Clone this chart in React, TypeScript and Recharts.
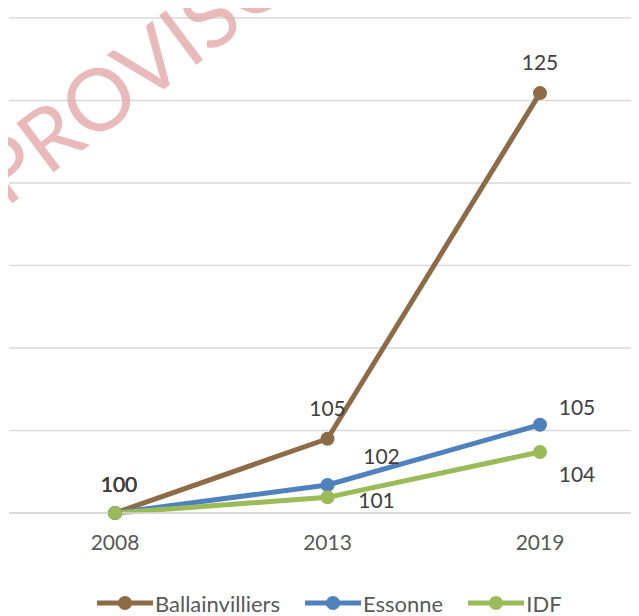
import React from "react";
import { LineChart, Line, XAxis, YAxis, CartesianGrid, Legend, LabelList } from "recharts";

const years = ["2008", "2013", "2019"];
const ballainvilliers = [100, 104.5, 125.45];
const essonne = [100, 101.7, 105.35];
const idf = [100, 100.95, 103.7];
const labelsB = ["100", "105", "125"];
const labelsE = ["100", "102", "105"];
const labelsI = ["100", "101", "104"];
const yTicks = [100, 105, 110, 115, 120, 125, 130];

const data = years.map((y, i) => ({
  year: y,
  Ballainvilliers: ballainvilliers[i],
  Essonne: essonne[i],
  IDF: idf[i],
}));

const COLORS = { Ballainvilliers: "#8D6B46", Essonne: "#4F81BD", IDF: "#9BBB59" };
const FONT = "Lato, 'Liberation Sans', sans-serif";

const makeLabel = (texts: string[], offsets: [number, number][]) => (props: any) => {
  const { x, y, index } = props;
  const [dx, dy] = offsets[index];
  return (
    <text
      x={x + dx}
      y={y + dy}
      textAnchor="middle"
      dominantBaseline="central"
      fontSize={21}
      fontFamily={FONT}
      fill="#404040"
    >
      {texts[index]}
    </text>
  );
};

const offB: [number, number][] = [[4, -30], [0, -31], [0, -32]];
const offE: [number, number][] = [[4, -30], [54, -29], [37, -18]];
const offI: [number, number][] = [[4, -30], [49, 2], [37, 22]];

const legendItems = ["Ballainvilliers", "Essonne", "IDF"] as const;

const LegendContent = () => (
  <div style={{ display: "flex", justifyContent: "flex-start", paddingLeft: 88, marginTop: 7, height: 40, alignItems: "center", fontFamily: FONT, fontSize: 22, color: "#595959" }}>
    {legendItems.map((k) => (
      <div key={k} style={{ display: "flex", alignItems: "center", marginRight: 25 }}>
        <svg width={56} height={16} style={{ marginRight: 2 }}>
          <line x1={0} y1={8} x2={56} y2={8} stroke={COLORS[k]} strokeWidth={5} />
          <circle cx={28} cy={8} r={7} fill={COLORS[k]} />
        </svg>
        <span>{k}</span>
      </div>
    ))}
  </div>
);

export default function App() {
  return (
    <div style={{ position: "relative", margin: -8, width: 646, height: 624, overflow: "hidden", background: "#fff" }}>
      <LineChart width={646} height={616} data={data} margin={{ top: 18, right: 0, left: 9, bottom: 0 }}>
        <CartesianGrid vertical={false} stroke="#D9D9D9" strokeWidth={1.5} />
        <XAxis
          dataKey="year"
          axisLine={{ stroke: "#D9D9D9", strokeWidth: 1.5 }}
          tickLine={false}
          tickMargin={16}
          height={63}
          padding={{ left: 106, right: 106 }}
          tick={{ fontSize: 21, fontFamily: FONT, fill: "#595959" }}
        />
        <YAxis hide domain={[100, 130]} ticks={yTicks} />
        <Legend verticalAlign="bottom" height={40} content={<LegendContent />} />
        <Line dataKey="Ballainvilliers" stroke={COLORS.Ballainvilliers} strokeWidth={5} dot={{ r: 7, fill: COLORS.Ballainvilliers, stroke: "none" }} isAnimationActive={false}>
          <LabelList dataKey="Ballainvilliers" content={makeLabel(labelsB, offB)} />
        </Line>
        <Line dataKey="Essonne" stroke={COLORS.Essonne} strokeWidth={5} dot={{ r: 7, fill: COLORS.Essonne, stroke: "none" }} isAnimationActive={false}>
          <LabelList dataKey="Essonne" content={makeLabel(labelsE, offE)} />
        </Line>
        <Line dataKey="IDF" stroke={COLORS.IDF} strokeWidth={5} dot={{ r: 7, fill: COLORS.IDF, stroke: "none" }} isAnimationActive={false}>
          <LabelList dataKey="IDF" content={makeLabel(labelsI, offI)} />
        </Line>
      </LineChart>
      <svg width={646} height={616} style={{ position: "absolute", left: 0, top: 0, pointerEvents: "none" }}>
        <text
          x={6}
          y={208}
          transform="rotate(-37 6 208)"
          fontSize={86}
          fontFamily={FONT}
          fill="#E3A9A8"
          fillOpacity={0.8}
        >
          PROVISOIRE
        </text>
      </svg>
    </div>
  );
}
